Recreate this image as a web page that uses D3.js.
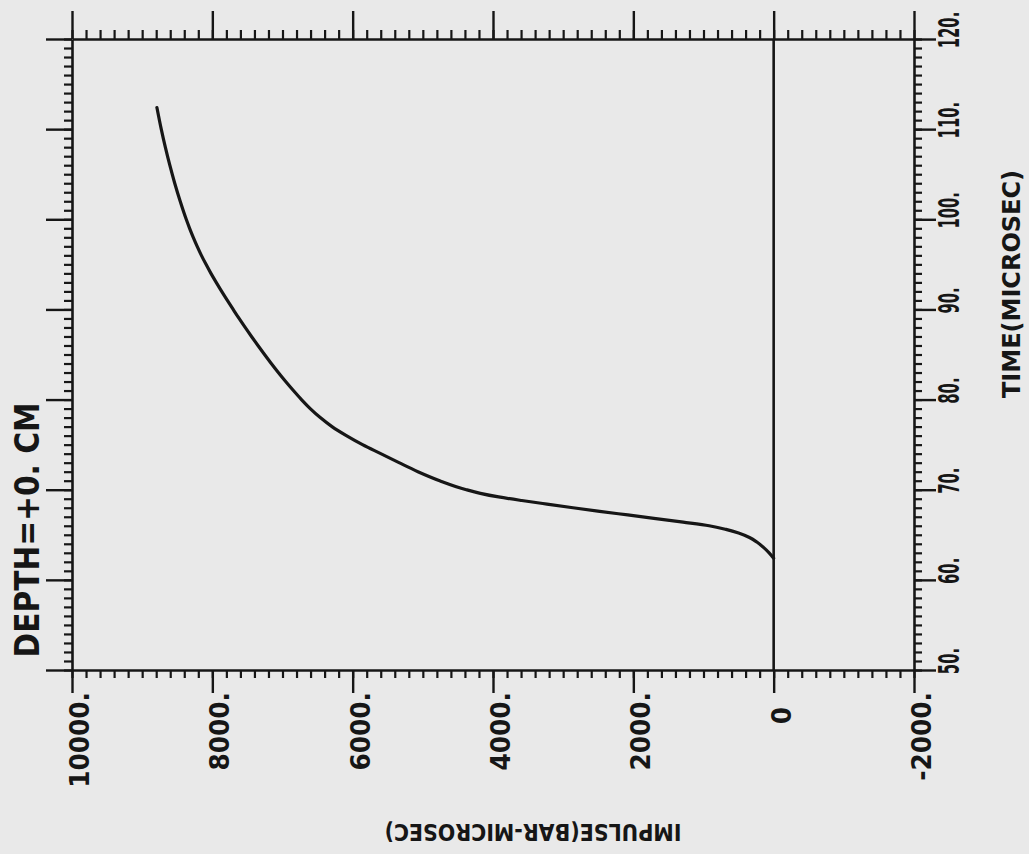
<!DOCTYPE html>
<html><head><meta charset="utf-8">
<script src="https://cdn.jsdelivr.net/npm/d3@7"></script>
<style>body{margin:0;background:#e9e9e9;} svg{display:block}</style>
</head><body><svg id="c" width="1029" height="854"></svg>
<script>
// ---- data (time in microseconds, impulse in bar-microseconds) ----
const time = [62.4, 63.0, 63.6, 64.2, 64.7, 65.2, 65.6, 66.0, 66.4, 66.8, 67.2, 67.6, 68.0, 68.4, 68.8, 69.2, 69.6, 70.0, 71.0, 72.0, 73.0, 74.0, 75.0, 76.0, 77.0, 78.0, 79.0, 80.0, 81.0, 82.0, 83.0, 84.0, 85.0, 86.0, 87.0, 88.0, 89.0, 90.0, 91.0, 92.0, 93.0, 94.0, 95.0, 96.0, 97.0, 98.0, 99.0, 100.0, 102.0, 104.0, 106.0, 108.0, 110.0, 112.4];
const impulse = [0, 65, 145, 240, 345, 500, 680, 920, 1290, 1680, 2080, 2480, 2860, 3230, 3590, 3920, 4180, 4380, 4760, 5070, 5340, 5600, 5860, 6090, 6295, 6462, 6605, 6730, 6845, 6955, 7060, 7160, 7256, 7350, 7442, 7532, 7619, 7703, 7786, 7867, 7945, 8020, 8090, 8156, 8216, 8272, 8324, 8372, 8458, 8536, 8606, 8670, 8728, 8790];
const timeTicks = [50, 60, 70, 80, 90, 100, 110, 120];
const timeTickLabels = ["50.", "60.", "70.", "80.", "90.", "100.", "110.", "120."];
const impulseTicks = [10000, 8000, 6000, 4000, 2000, 0, -2000];
const impulseTickLabels = ["10000.", "8000.", "6000.", "4000.", "2000.", "0", "-2000."];
const titleText = "DEPTH=+0. CM";
const timeTitle = "TIME(MICROSEC)";
const impulseTitle = "IMPULSE(BAR-MICROSEC)";

// ---- layout (chart drawn rotated 90deg, as in the plot) ----
const W = 1029, H = 854;
const L = 72, R = 914, T = 39, B = 670;
const INK = "#161616";
const FONT = "'DejaVu Sans', sans-serif";

const svg = d3.select("#c");
svg.append("rect").attr("width", W).attr("height", H).attr("fill", "#e9e9e9");

const yT = d3.scaleLinear().domain([50, 120]).range([B, T]);
const xI = d3.scaleLinear().domain([10000, -2000]).range([L, R]);

const minorT = d3.range(50, 120.5, 1);
const minorI = d3.range(-2000, 10000.5, 200);

function styleAxis(g, w) {
  g.selectAll("path.domain").attr("stroke", INK).attr("stroke-width", 2.6);
  g.selectAll(".tick line").attr("stroke", INK).attr("stroke-width", w);
  g.selectAll(".tick text").remove();
}
function addAxis(axisFn, scale, transform, values, size, w, domain) {
  const g = svg.append("g").attr("transform", transform)
    .call(axisFn(scale).tickValues(values).tickSize(size).tickSizeOuter(0).tickFormat(""));
  styleAxis(g, w);
  if (!domain) g.select("path.domain").remove();
  return g;
}
// left & right (time) axes
addAxis(d3.axisLeft, yT, `translate(${L},0)`, minorT, 8, 2.2, true);
addAxis(d3.axisLeft, yT, `translate(${L},0)`, timeTicks, 26, 2.4, false);
addAxis(d3.axisRight, yT, `translate(${R},0)`, minorT, 8, 2.2, true);
addAxis(d3.axisRight, yT, `translate(${R},0)`, timeTicks, 22, 2.4, false);
// top & bottom (impulse) axes
addAxis(d3.axisTop, xI, `translate(0,${T})`, minorI, 9, 2.2, true);
addAxis(d3.axisTop, xI, `translate(0,${T})`, impulseTicks, 28, 2.4, false);
addAxis(d3.axisBottom, xI, `translate(0,${B})`, minorI, 8, 2.2, true);
addAxis(d3.axisBottom, xI, `translate(0,${B})`, impulseTicks, 23, 2.4, false);

// zero line
svg.append("line")
  .attr("x1", xI(0)).attr("x2", xI(0)).attr("y1", yT(120)).attr("y2", yT(50))
  .attr("stroke", INK).attr("stroke-width", 2.6);

// curve
const pts = time.map((t, i) => ({ t, v: impulse[i] }));
svg.append("path").datum(pts)
  .attr("fill", "none").attr("stroke", INK).attr("stroke-width", 3.2)
  .attr("stroke-linecap", "round").attr("stroke-linejoin", "round")
  .attr("d", d3.line().x(d => xI(d.v)).y(d => yT(d.t)).curve(d3.curveMonotoneY));

// time tick labels (right side, reading upward, condensed)
svg.append("g").selectAll("text").data(timeTicks).join("text")
  .attr("x", 0).attr("y", 0)
  .attr("transform", d => `translate(959,${yT(d) - 9}) rotate(-90) scale(0.53,1)`)
  .attr("text-anchor", "middle")
  .attr("font-family", FONT).attr("font-weight", "bold").attr("font-size", 28)
  .attr("fill", INK)
  .text((d, i) => timeTickLabels[i]);

// impulse tick labels (below, reading upward)
svg.append("g").selectAll("text").data(impulseTicks).join("text")
  .attr("x", 0).attr("y", 0)
  .attr("transform", d => `translate(${xI(d) + 17},${d === 0 ? 707 : 692}) rotate(-90) scale(0.92,1)`)
  .attr("text-anchor", "end")
  .attr("font-family", FONT).attr("font-weight", "bold").attr("font-size", 27)
  .attr("fill", INK)
  .text((d, i) => impulseTickLabels[i]);

// axis titles
svg.append("text")
  .attr("x", 1020).attr("y", 284).attr("transform", "rotate(-90,1020,284)")
  .attr("text-anchor", "middle").attr("font-family", FONT).attr("font-weight", "bold")
  .attr("font-size", 25).attr("fill", INK)
  .attr("textLength", 228).attr("lengthAdjust", "spacingAndGlyphs")
  .text(timeTitle);

svg.append("text")
  .attr("x", 533).attr("y", 824).attr("transform", "rotate(180,533,824)")
  .attr("text-anchor", "middle").attr("font-family", FONT).attr("font-weight", "bold")
  .attr("font-size", 23).attr("fill", INK)
  .attr("textLength", 297).attr("lengthAdjust", "spacingAndGlyphs")
  .text(impulseTitle);

// plot title
svg.append("text")
  .attr("x", 39).attr("y", 530).attr("transform", "rotate(-90,39,530)")
  .attr("text-anchor", "middle").attr("font-family", FONT).attr("font-weight", "bold")
  .attr("font-size", 34).attr("fill", INK)
  .attr("textLength", 255).attr("lengthAdjust", "spacingAndGlyphs")
  .text(titleText);
</script>
</body></html>
